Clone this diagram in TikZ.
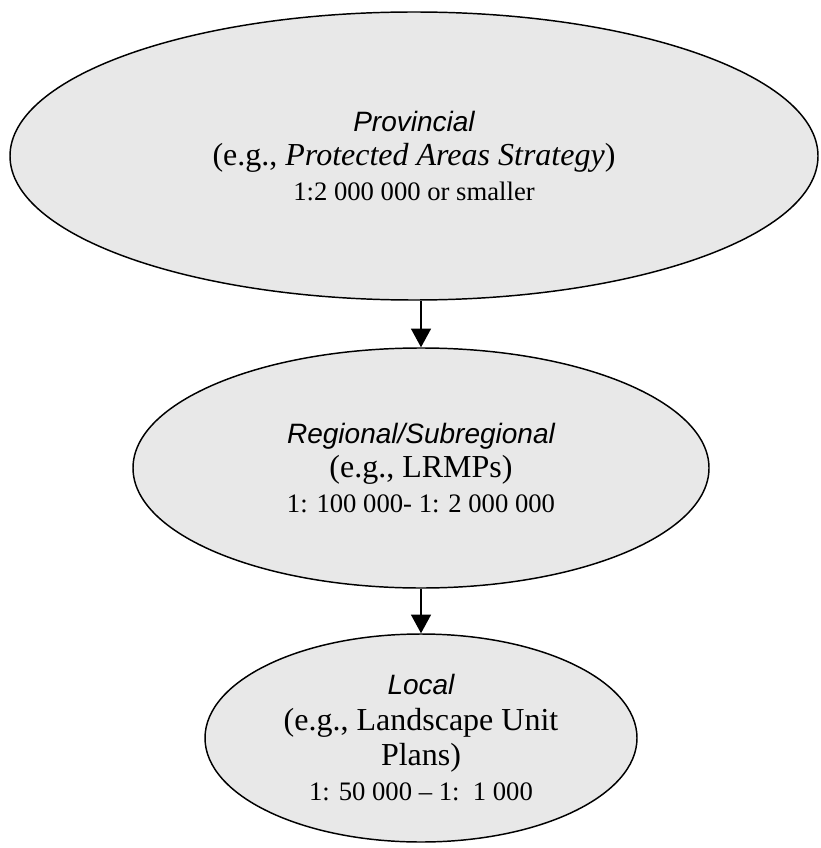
\documentclass[tikz,border=0pt]{standalone}
\usepackage{fontspec}
\setmainfont{Liberation Serif}
\setsansfont{Liberation Sans}
\usepackage{xcolor}
\usetikzlibrary{arrows.meta,shapes.geometric}
\definecolor{ovalfill}{HTML}{E8E8E8}
\newcommand{\lvlname}[1]{{\fontsize{21}{26}\selectfont\sffamily\itshape #1}}
\newcommand{\lvlscale}[1]{{\fontsize{20}{26}\selectfont #1}}

\begin{document}
\begin{tikzpicture}[x=0.75pt,y=-0.75pt,
  level/.style={draw=black,line width=1.1pt,fill=ovalfill,ellipse,inner sep=0pt,
                align=center,font=\fontsize{24}{26}\selectfont},
  link/.style={-{Triangle[width=15pt,length=14pt]},line width=1pt}]
  \useasboundingbox (0,0) rectangle (820,848);
  \node[level,minimum width=606pt,minimum height=216pt] (prov) at (414,156)
  {\lvlname{Provincial}\\
   (e.g., \textit{Protected Areas Strategy})\\
   \lvlscale{1:2 000 000 or smaller}};
  \node[level,minimum width=432pt,minimum height=180pt] (reg) at (421,468)
  {\lvlname{Regional/Subregional}\\
   (e.g., LRMPs)\\
   \lvlscale{1: 100 000- 1: 2 000 000}};
  \node[level,minimum width=324pt,minimum height=156pt,
        font=\fontsize{24}{26.5}\selectfont] (loc) at (421,738)
  {\lvlname{Local}\\
   (e.g., Landscape Unit\\
   Plans)\\
   \lvlscale{1: 50 000 -- 1:\ \ 1 000}};
  \draw[link] (prov.south -| reg.north) -- (reg.north);
  \draw[link] (reg.south) -- (loc.north);
\end{tikzpicture}
\end{document}
